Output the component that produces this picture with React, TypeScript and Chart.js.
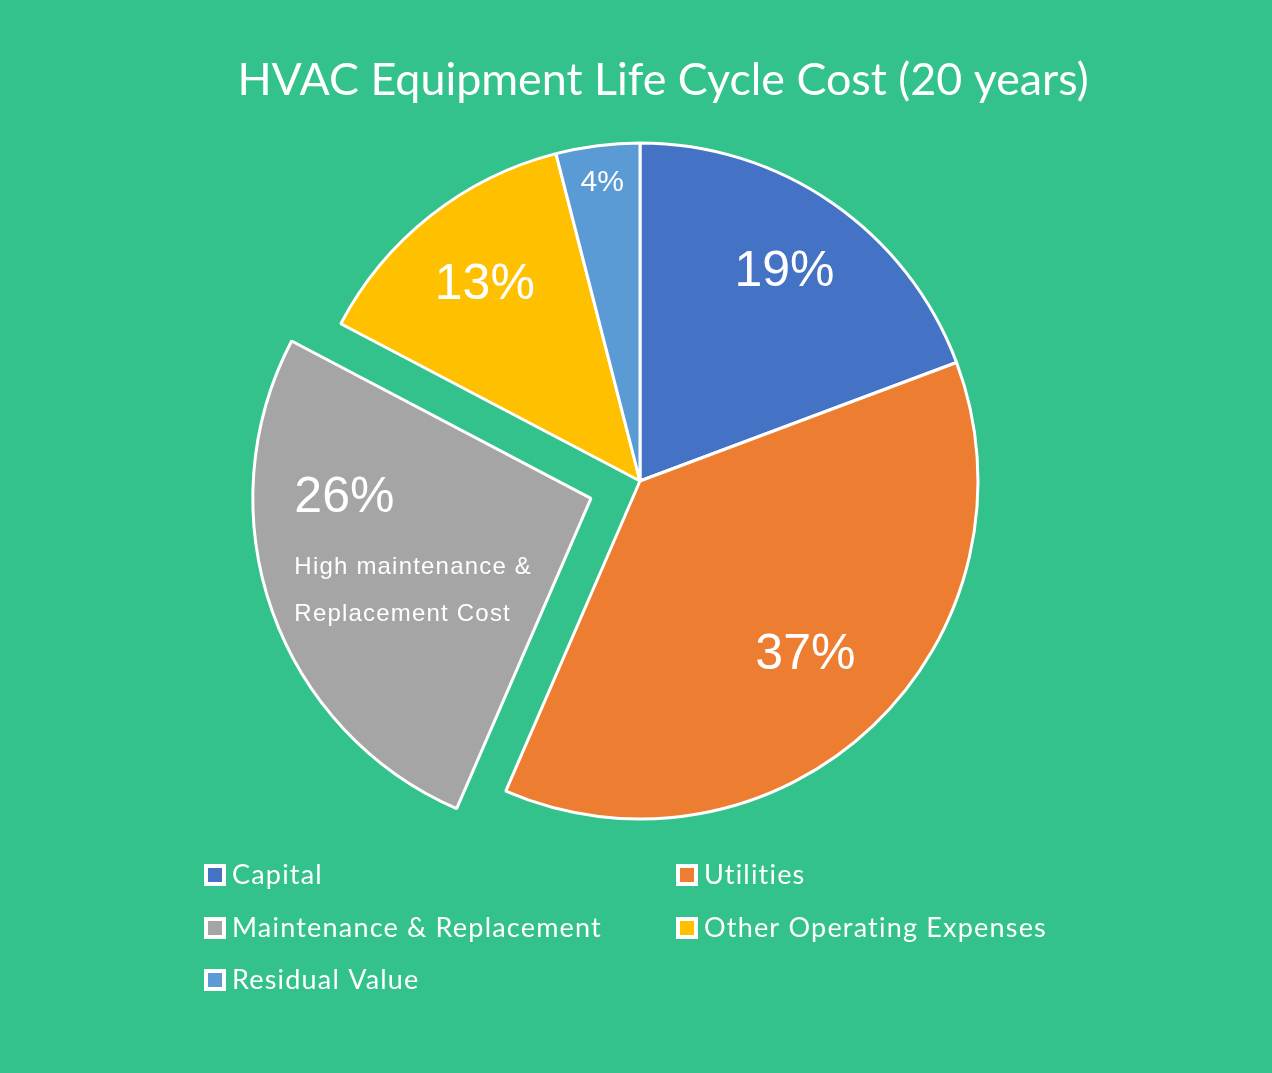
import React, { useEffect, useRef } from "react";
import { Chart, registerables } from "chart.js";

Chart.register(...registerables);

const TITLE = "HVAC Equipment Life Cycle Cost (20 years)";
const categories = [
  "Capital",
  "Utilities",
  "Maintenance & Replacement",
  "Other Operating Expenses",
  "Residual Value",
];
const costShare = [19.3, 37.2, 26.2, 13.3, 4.0];
const sliceColors = ["#4472C4", "#ED7D31", "#A5A5A5", "#FFC000", "#5B9BD5"];
const explodedOffset = [0, 0, 52, 0, 0];
const annotationLines = ["High maintenance &", "Replacement Cost"];

const BG = "#33C28B";
const labelRadius = [0.75, 0.71, 0.62, 0.74, 0.89];
const labelFontSize = [50, 50, 50, 50, 30];

const overlayPlugin = {
  id: "overlay",
  beforeDraw(chart: any) {
    const ctx = chart.ctx;
    ctx.save();
    ctx.fillStyle = BG;
    ctx.fillRect(0, 0, chart.width, chart.height);
    ctx.restore();
  },
  afterDraw(chart: any) {
    const ctx = chart.ctx;
    const meta = chart.getDatasetMeta(0);
    const data = chart.data.datasets[0].data as number[];
    const total = data.reduce((a, b) => a + b, 0);
    ctx.save();
    // title
    ctx.fillStyle = "#FFFFFF";
    ctx.textAlign = "center";
    ctx.textBaseline = "middle";
    ctx.font = "44.8px Lato";
    ctx.fillText(TITLE, 663, 81);

    // slice labels
    meta.data.forEach((arc: any, i: number) => {
      const p = arc.getProps(["x", "y", "startAngle", "endAngle", "outerRadius"], true);
      const mid = (p.startAngle + p.endAngle) / 2;
      const off = explodedOffset[i];
      const cx = p.x + Math.cos(mid) * off;
      const cy = p.y + Math.sin(mid) * off;
      const r = p.outerRadius * labelRadius[i];
      const lx = cx + Math.cos(mid) * r;
      const ly = cy + Math.sin(mid) * r;
      const pct = Math.round((data[i] / total) * 100) + "%";
      ctx.fillStyle = "#FFFFFF";
      ctx.textBaseline = "middle";
      if (i === 2) {
        ctx.textAlign = "left";
        ctx.font = `${labelFontSize[i]}px "Liberation Sans", Arial`;
        const left = lx - 99;
        ctx.fillText(pct, left, ly - 70);
        ctx.font = `24px "Liberation Sans", Arial`;
        (ctx as any).letterSpacing = "1.2px";
        annotationLines.forEach((t, k) => ctx.fillText(t, left, ly - 1 + k * 47));
        (ctx as any).letterSpacing = "0px";
      } else {
        ctx.textAlign = "center";
        ctx.font = `${labelFontSize[i]}px "Liberation Sans", Arial`;
        ctx.fillText(pct, lx, ly);
      }
    });

    // legend (two columns)
    const colX = [204, 676];
    const rowY = [875, 928, 980];
    ctx.font = "27px Lato";
    (ctx as any).letterSpacing = "1.2px";
    categories.forEach((name, i) => {
      const x = colX[i % 2];
      const y = rowY[Math.floor(i / 2)];
      ctx.fillStyle = "#FFFFFF";
      ctx.fillRect(x, y - 11, 22, 22);
      ctx.fillStyle = sliceColors[i];
      ctx.fillRect(x + 4, y - 7, 14, 14);
      ctx.fillStyle = "#FFFFFF";
      ctx.textAlign = "left";
      ctx.textBaseline = "middle";
      ctx.fillText(name, x + 28, y);
    });
    ctx.restore();
  },
};

export default function App() {
  const ref = useRef<HTMLCanvasElement | null>(null);
  useEffect(() => {
    document.body.style.margin = "0";
    document.body.style.background = BG;
    const canvas = ref.current!;
    const chart = new Chart(canvas, {
      type: "pie",
      data: {
        labels: categories,
        datasets: [
          {
            data: costShare,
            backgroundColor: sliceColors,
            borderColor: "#FFFFFF",
            borderWidth: 3,
            // Chart.js translates an arc by offset / 4 pixels
            offset: explodedOffset.map((v) => v * 4),
            radius: 338,
          } as any,
        ],
      },
      options: {
        animation: false,
        responsive: false,
        maintainAspectRatio: false,
        layout: { padding: { left: 8, right: 0, top: 0, bottom: 111 } },
        plugins: {
          legend: { display: false },
          title: { display: false },
          tooltip: { enabled: false },
        },
        events: [],
      },
      plugins: [overlayPlugin],
    });
    return () => chart.destroy();
  }, []);
  return (
    <div style={{ width: 1272, height: 1073, background: BG }}>
      <canvas ref={ref} width={1272} height={1073} style={{ display: "block" }} />
    </div>
  );
}
